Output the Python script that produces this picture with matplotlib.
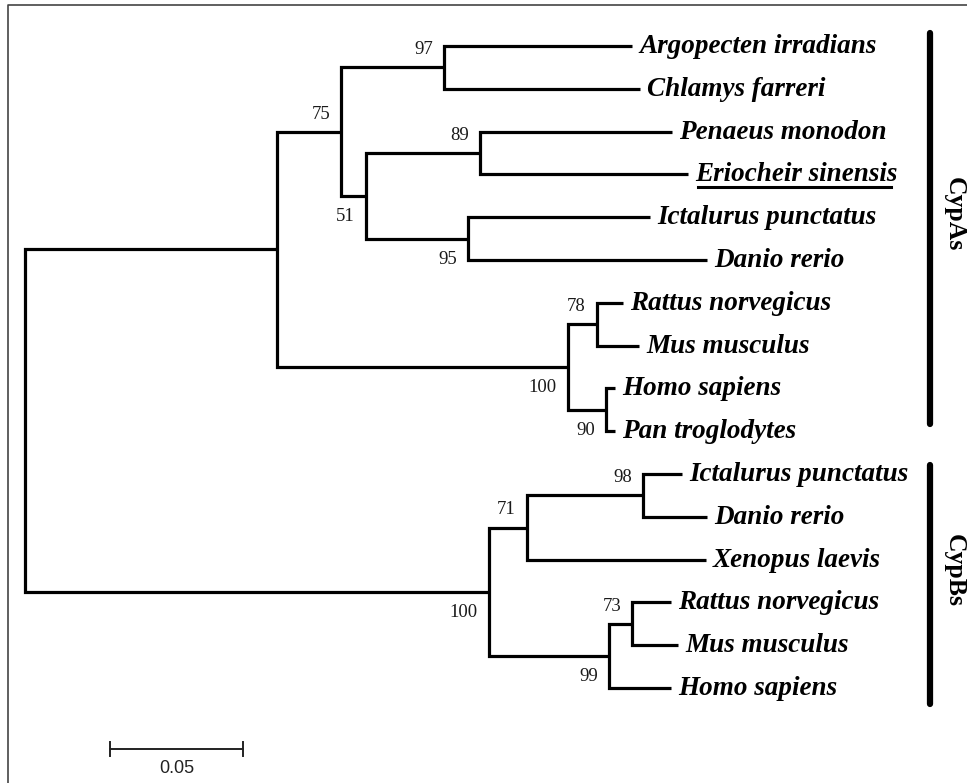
import matplotlib
matplotlib.use('Agg')
import matplotlib.pyplot as plt
from matplotlib.transforms import offset_copy

# --- tree data ---
edge_parent = ['root', 'root', 'A', 'A', 'A1', 'A1', 'A11', 'A11', 'A12', 'A12',
               'A121', 'A121', 'A122', 'A122', 'A2', 'A2', 'A21', 'A21', 'A22', 'A22',
               'B', 'B', 'B1', 'B1', 'B11', 'B11', 'B2', 'B2', 'B21', 'B21']
edge_child = ['A', 'B', 'A1', 'A2', 'A11', 'A12', 'L0', 'L1', 'A121', 'A122',
              'L2', 'L3', 'L4', 'L5', 'A21', 'A22', 'L6', 'L7', 'L8', 'L9',
              'B1', 'B2', 'B11', 'L12', 'L10', 'L11', 'B21', 'L15', 'L13', 'L14']
branch_len = [0.0947, 0.1744, 0.0241, 0.1094, 0.0387, 0.0094, 0.0707, 0.0737, 0.0429, 0.0383,
              0.0721, 0.0781, 0.0685, 0.0899, 0.0109, 0.0143, 0.0098, 0.0158, 0.0034, 0.0034,
              0.0143, 0.0451, 0.0436, 0.0673, 0.0147, 0.0241, 0.0087, 0.0234, 0.0147, 0.0173]

taxa = ['Argopecten irradians', 'Chlamys farreri', 'Penaeus monodon', 'Eriocheir sinensis',
        'Ictalurus punctatus', 'Danio rerio', 'Rattus norvegicus', 'Mus musculus',
        'Homo sapiens', 'Pan troglodytes', 'Ictalurus punctatus', 'Danio rerio',
        'Xenopus laevis', 'Rattus norvegicus', 'Mus musculus', 'Homo sapiens']
underlined = ['Eriocheir sinensis']

boot_node = ['A1', 'A11', 'A12', 'A121', 'A122', 'A2', 'A21', 'A22',
             'B', 'B1', 'B11', 'B2', 'B21']
boot_val = [75, 97, 51, 89, 95, 100, 78, 90, 100, 71, 98, 99, 73]

clade_names = ['CypAs', 'CypBs']
clade_first = [0, 10]
clade_last = [9, 15]

scale_len = 0.05

# --- layout (pixels of a 967x783 canvas) ---
W, H = 967, 783
PX_PER_UNIT = 2660.0
ROOT_PX = 25
LEAF0_PX, LEAF_STEP = 46, 42.8

# --- build tree geometry ---
depth = {'root': 0.0}
children = {}
for p, c, bl in zip(edge_parent, edge_child, branch_len):
    depth[c] = depth[p] + bl
    children.setdefault(p, []).append(c)

ypos = {}


def get_y(n):
    if n.startswith('L'):
        ypos[n] = float(n[1:])
    else:
        kids = [get_y(k) for k in children[n]]
        ypos[n] = (kids[0] + kids[-1]) / 2
    return ypos[n]


get_y('root')

plt.rcParams['font.family'] = ['Liberation Serif', 'DejaVu Serif']
fig = plt.figure(figsize=(W / 100, H / 100), dpi=100)
ax = fig.add_axes([0, 0, 1, 1])
ax.set_xlim(-ROOT_PX / PX_PER_UNIT, (W - ROOT_PX) / PX_PER_UNIT)
ax.set_ylim((H - LEAF0_PX) / LEAF_STEP, -LEAF0_PX / LEAF_STEP)
ax.axis('off')


def shifted(dx, dy):
    # offset in pixels (dy positive = down on screen)
    return offset_copy(ax.transData, fig=fig, x=dx, y=-dy, units='dots')


# branches: one bracket per internal node
for n, kids in children.items():
    c1, c2 = kids[0], kids[-1]
    ax.plot([depth[c1], depth[n], depth[n], depth[c2]],
            [ypos[c1], ypos[c1], ypos[c2], ypos[c2]],
            color='black', lw=2.3, solid_joinstyle='miter', solid_capstyle='butt')

# leaf labels
leaf_texts = []
for i, name in enumerate(taxa):
    leaf = 'L%d' % i
    t = ax.text(depth[leaf], ypos[leaf], name, transform=shifted(7, 7),
                fontsize=19.5, fontweight='bold', style='italic',
                ha='left', va='baseline', color='black')
    leaf_texts.append(t)

# bootstrap values
parent_of = dict(zip(edge_child, edge_parent))
for n, v in zip(boot_node, boot_val):
    first = children[parent_of[n]][0] == n
    dy = -17.5 if first else 20.5
    ax.text(depth[n], ypos[n], str(v), transform=shifted(-11, dy),
            fontsize=13.5, ha='right', va='center', color='#1a1a1a')

# clade bars and names
bar_x = (930 - ROOT_PX) / PX_PER_UNIT
bar_pad = [(-13, -7), (-9, 16)]
for name, f, l, (pt, pb) in zip(clade_names, clade_first, clade_last, bar_pad):
    y_top = f + pt / LEAF_STEP
    y_bot = l + pb / LEAF_STEP
    ax.plot([bar_x, bar_x], [y_top, y_bot], color='black', lw=4.5,
            solid_capstyle='round')
    ax.text(bar_x, (y_top + y_bot) / 2, name, transform=shifted(24, -14),
            fontsize=18.5, fontweight='bold', rotation=-90,
            ha='center', va='center', color='black')

# scale bar
sb_x = (110 - ROOT_PX) / PX_PER_UNIT
sb_y = (749 - LEAF0_PX) / LEAF_STEP
tick = 7 / LEAF_STEP
ax.plot([sb_x, sb_x + scale_len], [sb_y, sb_y], color='#222222', lw=1.4)
for xx in (sb_x, sb_x + scale_len):
    ax.plot([xx, xx], [sb_y - tick, sb_y + tick], color='#222222', lw=1.4)
ax.text(sb_x + scale_len / 2, sb_y, '%g' % scale_len, transform=shifted(0, 19),
        fontsize=13, family='Liberation Sans', ha='center', va='center', color='#222222')

# frame (only top and left edges are inside the crop)
fx, fy = 8 / W, 1 - 5 / H
ax.plot([fx, fx, 1.0], [0.0, fy, fy], transform=ax.transAxes,
        color='#444444', lw=1.2, clip_on=False)

# underline for the highlighted species
fig.canvas.draw()
renderer = fig.canvas.get_renderer()
inv = ax.transData.inverted()
for t in leaf_texts:
    if t.get_text() in underlined:
        bb = t.get_window_extent(renderer)
        (x0, y0), (x1, _) = inv.transform([(bb.x0 + 3, bb.y0), (bb.x1 - 6, bb.y0)])
        ax.plot([x0, x1], [y0, y0], color='black', lw=2.2)

fig.savefig('out.png', dpi=100, facecolor='white')
